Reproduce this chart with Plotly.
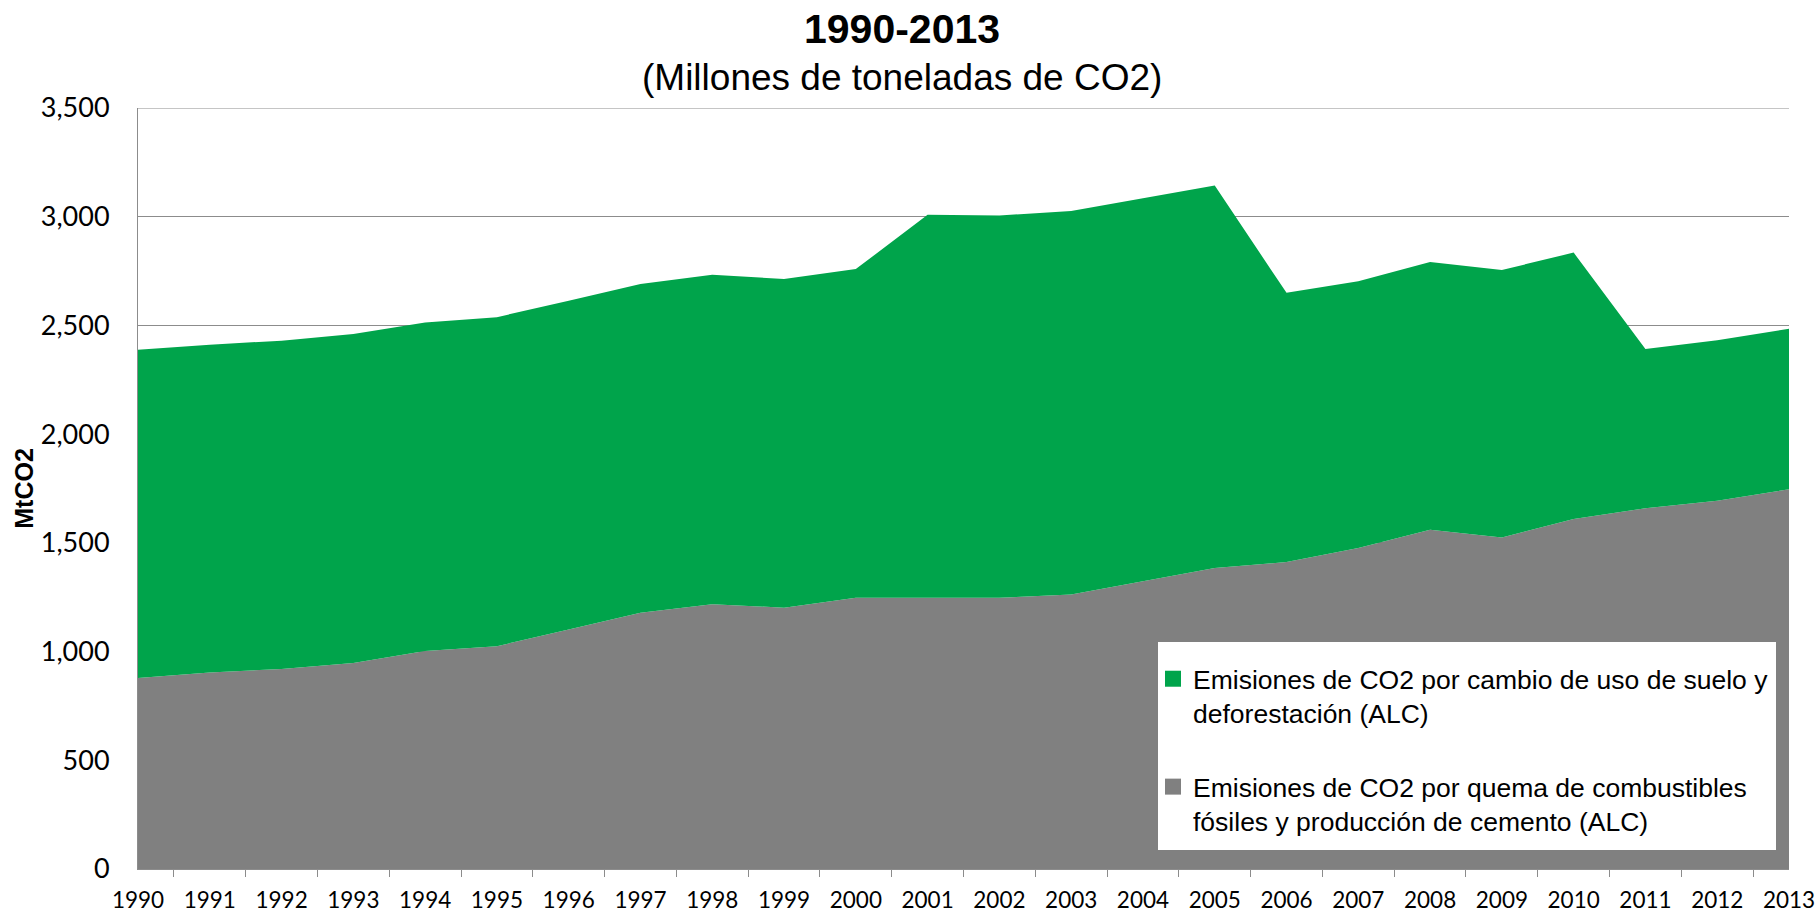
import plotly.graph_objects as go

years = list(range(1990, 2014))
fossil = [879, 904, 920, 947, 1003, 1025, 1101, 1178, 1218, 1202, 1247, 1247,
          1247, 1262, 1323, 1384, 1412, 1476, 1560, 1525, 1610, 1659, 1694, 1746]
land_use = [1509, 1507, 1510, 1514, 1511, 1513, 1513, 1512, 1515, 1512, 1512, 1762,
            1759, 1764, 1762, 1759, 1238, 1227, 1232, 1230, 1225, 733, 738, 739]

name_land = "Emisiones de CO2 por cambio de uso de suelo y<br>deforestación (ALC)"
name_fossil = "Emisiones de CO2 por quema de combustibles<br>fósiles y producción de cemento (ALC)"

GREEN = "#00A44B"
GRAY = "#808080"
AXIS = "#8C8C8C"

fig = go.Figure()
# stacked areas
fig.add_trace(go.Scatter(x=years, y=fossil, name=name_fossil, stackgroup="one",
                         mode="none", fillcolor=GRAY, showlegend=False))
fig.add_trace(go.Scatter(x=years, y=land_use, name=name_land, stackgroup="one",
                         mode="none", fillcolor=GREEN, showlegend=False))
# legend entries with square swatches
fig.add_trace(go.Scatter(x=[None], y=[None], name=name_land, mode="markers",
                         marker=dict(symbol="square", size=16, color=GREEN),
                         legendgroup="a", legendrank=1))
fig.add_trace(go.Scatter(x=[None], y=[None], name=name_fossil, mode="markers",
                         marker=dict(symbol="square", size=16, color=GRAY),
                         legendgroup="b", legendrank=2))

PL, PR, PT, PB = 138, 1789, 108, 869
PW, PH = PR - PL, PB - PT


def px(x):
    return (x - PL) / PW


def py(y):
    return (PB - y) / PH


fig.update_layout(
    width=1818, height=915,
    margin=dict(l=PL, r=1818 - PR, t=PT, b=915 - PB, autoexpand=False),
    paper_bgcolor="white", plot_bgcolor="white",
    annotations=[
        dict(text="<b>1990-2013</b>", xref="paper", yref="paper",
             x=px(902), y=py(29), xanchor="center", yanchor="middle", showarrow=False,
             font=dict(family="Liberation Sans, Arial", size=41, color="black")),
        dict(text="(Millones de toneladas de CO2)", xref="paper", yref="paper",
             x=px(902), y=py(77), xanchor="center", yanchor="middle", showarrow=False,
             font=dict(family="Liberation Sans, Arial", size=37, color="black")),
    ],
    shapes=[
        dict(type="rect", xref="paper", yref="paper", x0=px(1158), x1=px(1776),
             y0=py(850), y1=py(642), fillcolor="white", line=dict(width=0), layer="above"),
        dict(type="line", xref="paper", yref="y", x0=0, x1=1, y0=3500, y1=3500,
             line=dict(color=AXIS, width=1), layer="below"),
    ],
    legend=dict(x=px(1153), y=py(655), xanchor="left", yanchor="top",
                bgcolor="rgba(0,0,0,0)", traceorder="grouped", tracegroupgap=36,
                valign="top",
                font=dict(family="Liberation Sans, Arial", size=26.5, color="black")),
    showlegend=True,
)

fig.update_xaxes(range=[1990, 2013], tickmode="array", tickvals=years,
                 ticktext=[str(y) for y in years], ticks="", showgrid=False,
                 showline=True, linecolor=AXIS, linewidth=1, automargin=False,
                 minor=dict(ticks="outside", tick0=1989.5, dtick=1, ticklen=7,
                            tickcolor=AXIS, showgrid=False),
                 ticklabelstandoff=11,
                 tickfont=dict(family="Lato", size=22.5, color="black"))
fig.update_yaxes(range=[0, 3500], tickvals=[0, 500, 1000, 1500, 2000, 2500, 3000, 3500],
                 tickformat=",d", showgrid=True, gridcolor=AXIS, gridwidth=1,
                 showline=True, linecolor=AXIS, linewidth=1, ticks="", automargin=False,
                 ticklabelstandoff=22, zeroline=False,
                 tickfont=dict(family="Lato", size=27, color="black"),
                 title=dict(text="<b>MtCO2</b>", standoff=0,
                            font=dict(family="Liberation Sans, Arial", size=25, color="black")))

fig.write_html("out.html", config={"displayModeBar": False},
               post_script="document.body.style.margin='0px';document.body.style.overflow='hidden';")
